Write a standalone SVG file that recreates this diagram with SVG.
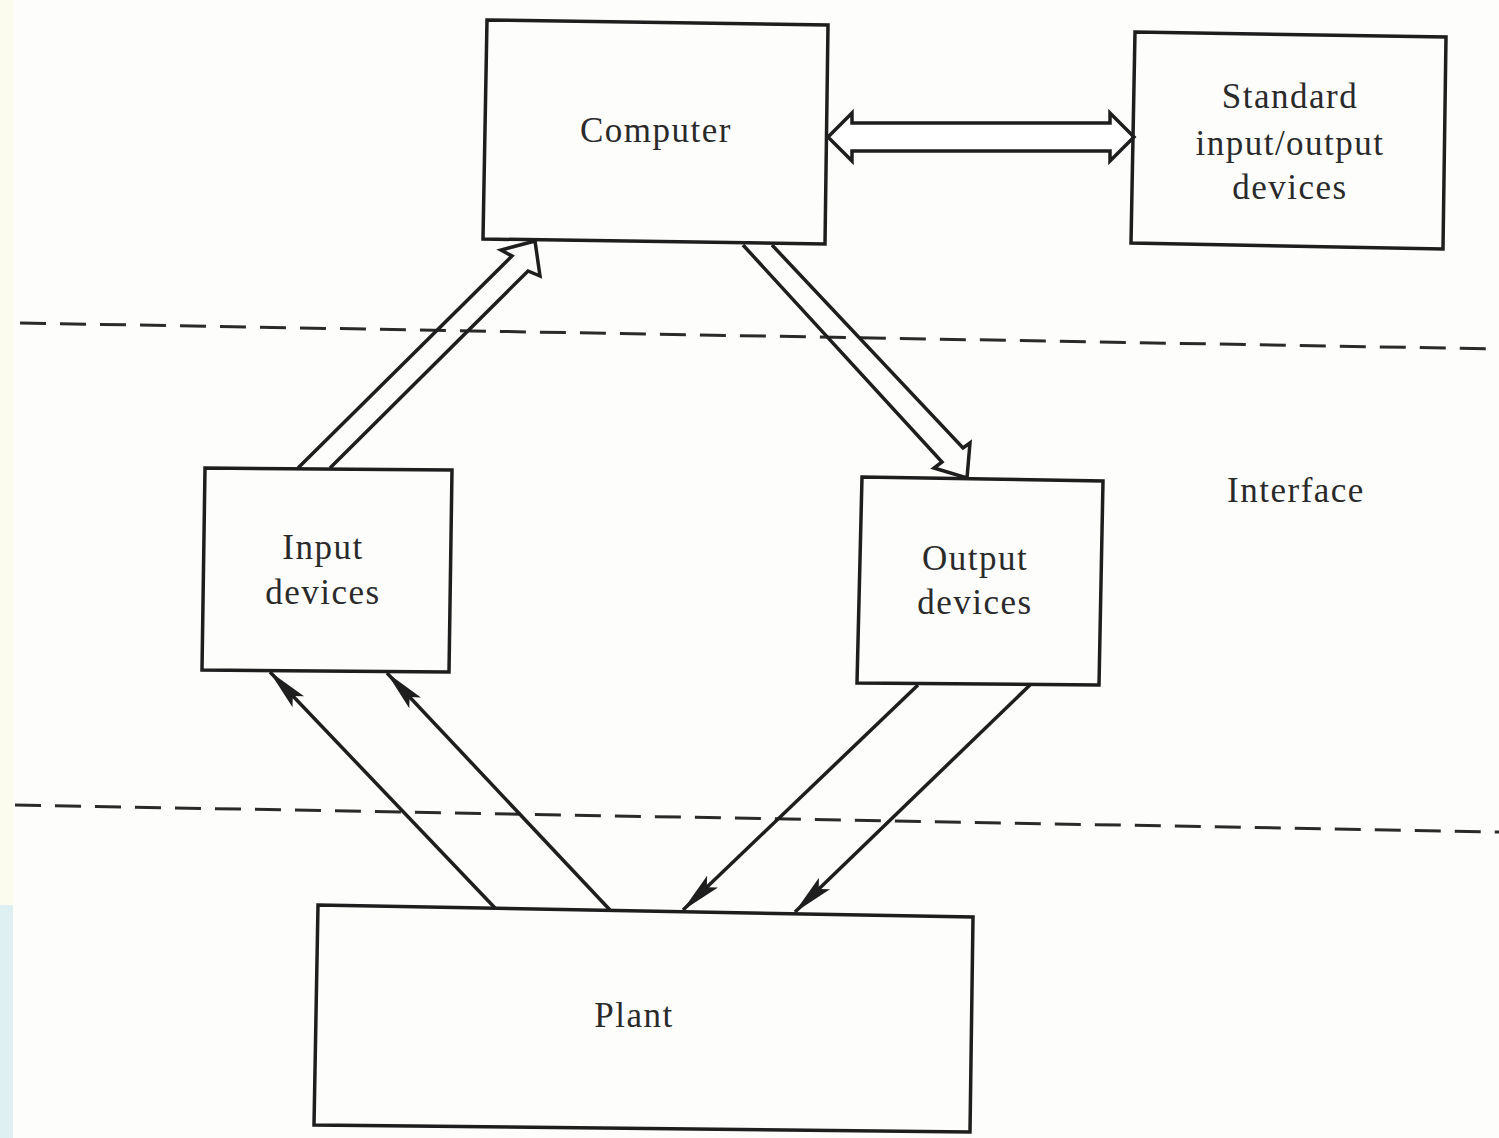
<svg xmlns="http://www.w3.org/2000/svg" width="1499" height="1138" viewBox="0 0 1499 1138">
<defs>
<style>
.box{fill:none;stroke:#1e1e1e;stroke-width:3.5;stroke-linejoin:miter}
.lbl{font-family:"Liberation Serif","Times New Roman",serif;font-size:35px;letter-spacing:1.5px;fill:#2a2a2a;text-anchor:middle}
.dash{stroke:#2a2a2a;stroke-width:3;stroke-dasharray:26 14;fill:none}
.hollow{fill:none;stroke:#1e1e1e;stroke-width:3.5;stroke-linejoin:miter}
.hollowf{fill:#ffffff;stroke:#1e1e1e;stroke-width:3.5;stroke-linejoin:miter}
.line{stroke:#1e1e1e;stroke-width:3.5;fill:none}
</style>
<marker id="solid" viewBox="0 0 42 18" refX="41" refY="9" markerWidth="42" markerHeight="18" markerUnits="userSpaceOnUse" orient="auto">
<path d="M0,1 L42,9 L0,17 L8,9 Z" fill="#1e1e1e"/>
</marker>
</defs>
<rect x="0" y="0" width="1499" height="1138" fill="#fdfdfc"/>
<rect x="0" y="0" width="13" height="905" fill="#fbfbee"/>
<rect x="0" y="905" width="13" height="233" fill="#dff0f3"/>

<g id="dashed-lines">
<line class="dash" x1="20" y1="323" x2="1499" y2="349"/>
<line class="dash" x1="15" y1="805" x2="1499" y2="832"/>
</g>

<g id="connectors">
<polygon class="hollowf" points="828,137 852,113 852,123 1110,123 1110,113 1134,137 1110,161 1110,151 852,151 852,161"/>
<path class="hollow" d="M298,468 L512,256 L501,250 L535,241 L540,276 L528,271 L330,468"/>
<path class="hollow" d="M743,245 L942,462 L934,468 L967,478 L970,443 L963,448 L772,245"/>
<line class="line" x1="495" y1="908" x2="270" y2="672" marker-end="url(#solid)"/>
<line class="line" x1="610" y1="910" x2="387" y2="673" marker-end="url(#solid)"/>
<line class="line" x1="918" y1="685" x2="683" y2="910" marker-end="url(#solid)"/>
<line class="line" x1="1030" y1="685" x2="795" y2="912" marker-end="url(#solid)"/>
</g>

<g id="computer">
<polygon class="box" points="487,20 828,25 825,244 483,239"/>
<text class="lbl" x="656" y="142">Computer</text>
</g>

<g id="standard-io">
<polygon class="box" points="1135,32 1446,37 1443,249 1131,243"/>
<text class="lbl" x="1290" y="108">Standard</text>
<text class="lbl" x="1290" y="155">input/output</text>
<text class="lbl" x="1290" y="199">devices</text>
</g>

<g id="interface-label">
<text class="lbl" x="1296" y="502">Interface</text>
</g>

<g id="input-devices">
<polygon class="box" points="205,468 452,470 449,672 202,670"/>
<text class="lbl" x="323" y="559">Input</text>
<text class="lbl" x="323" y="604">devices</text>
</g>

<g id="output-devices">
<polygon class="box" points="862,477 1103,481 1099,685 857,683"/>
<text class="lbl" x="975" y="570">Output</text>
<text class="lbl" x="975" y="614">devices</text>
</g>

<g id="plant">
<polygon class="box" points="318,905 973,917 970,1132 314,1125"/>
<text class="lbl" x="634" y="1027">Plant</text>
</g>
</svg>
